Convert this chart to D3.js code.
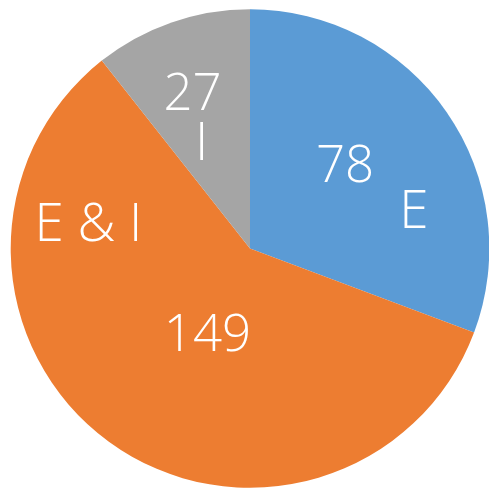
<!DOCTYPE html>
<html>
<head>
<meta charset="utf-8">
<script src="https://cdn.jsdelivr.net/npm/d3@7"></script>
<style>
    html, body { margin: 0; padding: 0; background: #fff; }
</style>
</head>
<body>
<div id="chart"></div>
<script>
var categories = ["E", "E & I", "I"];
var values = [78, 149, 27];
var colors = ["#5B9BD5", "#ED7D31", "#A5A5A5"];

// where each slice's value and name labels sit: [angle in degrees from top, fraction of radius]
var valueSpots = [[55.1, 0.484], [202.6, 0.462], [337.4, 0.625]];
var nameSpots = [[83.0, 0.69], [272.6, 0.676], [331.2, 0.42]];

function makeChart() {
    var width = 489,
        height = 488,
        cx = 250,
        cy = 248.5,
        radius = 239.3;

    var svg = d3
        .select("#chart")
        .append("svg")
        .attr("width", width)
        .attr("height", height)
        .append("g")
        .attr("transform", "translate(" + cx + "," + cy + ")");

    var data = categories.map((c, i) => ({ name: c, value: values[i], color: colors[i], i: i }));

    var pie = d3.pie().sort(null).value((d) => d.value);
    var arc = d3.arc().innerRadius(0).outerRadius(radius);

    svg.selectAll(".slice")
        .data(pie(data))
        .enter()
        .append("path")
        .attr("class", "slice")
        .attr("fill", (d) => d.data.color)
        .attr("d", arc);

    var rad = (deg) => (deg * Math.PI) / 180;

    function addLabels(spots, textOf, size) {
        svg.selectAll(null)
            .data(data)
            .enter()
            .append("text")
            .attr("transform", (d) => {
                var s = spots[d.i];
                var p = d3.pointRadial(rad(s[0]), s[1] * radius);
                return "translate(" + p[0] + "," + p[1] + ")";
            })
            .attr("text-anchor", "middle")
            .style("font-family", "'Open Sans', sans-serif")
            .style("font-weight", 300)
            .style("font-size", size + "px")
            .style("fill", "#fff")
            .text(textOf);
    }

    addLabels(valueSpots, (d) => d.value, 51);
    addLabels(nameSpots, (d) => d.name, 53);
}

makeChart();
</script>
</body>
</html>
